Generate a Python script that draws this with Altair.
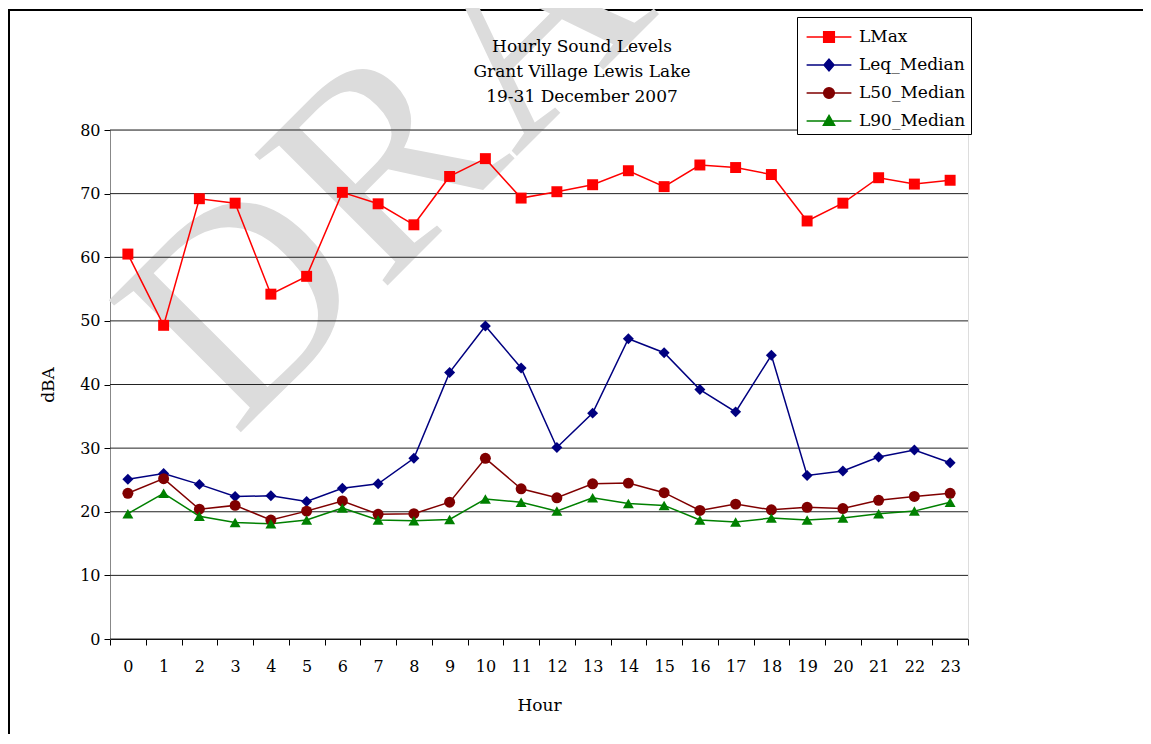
import altair as alt
import pandas as pd

FONT = "DejaVu Serif"

hours = list(range(24))
series_names = ["LMax", "Leq_Median", "L50_Median", "L90_Median"]
lmax = [60.5, 49.3, 69.2, 68.5, 54.2, 57.0, 70.2, 68.4, 65.1, 72.7, 75.5, 69.3,
        70.3, 71.4, 73.6, 71.1, 74.5, 74.1, 73.0, 65.7, 68.5, 72.5, 71.5, 72.1]
leq = [25.1, 26.0, 24.3, 22.4, 22.5, 21.6, 23.7, 24.4, 28.4, 41.9, 49.2, 42.6,
       30.1, 35.5, 47.2, 45.0, 39.2, 35.7, 44.6, 25.7, 26.4, 28.6, 29.7, 27.7]
l50 = [22.9, 25.2, 20.4, 21.0, 18.7, 20.1, 21.7, 19.6, 19.7, 21.5, 28.4, 23.6,
       22.2, 24.4, 24.5, 23.0, 20.2, 21.2, 20.3, 20.7, 20.5, 21.8, 22.4, 22.9]
l90 = [19.7, 22.9, 19.3, 18.3, 18.1, 18.7, 20.6, 18.7, 18.6, 18.8, 22.0, 21.5,
       20.1, 22.2, 21.3, 21.0, 18.7, 18.4, 19.0, 18.7, 19.0, 19.7, 20.1, 21.5]
colors = ["#FF0000", "#000080", "#800000", "#008000"]
marker_keys = ["m_square", "m_diamond", "m_circle", "m_triangle"]
shapes = ["square", "diamond", "circle", "triangle-up"]
legend_paths = [
    "M-1.6,0H1.6M-0.38,-0.38H0.38V0.38H-0.38Z",
    "M-1.6,0H1.6M0,-0.42L0.36,0L0,0.42L-0.36,0Z",
    "M-1.6,0H1.6M-0.38,0A0.38,0.38,0,1,0,0.38,0A0.38,0.38,0,1,0,-0.38,0Z",
    "M-1.6,0H1.6M0,-0.4L0.4,0.3H-0.4Z",
]
grid_values = [0, 10, 20, 30, 40, 50, 60, 70, 80]
title_lines = ["Hourly Sound Levels", "Grant Village Lewis Lake", "19-31 December 2007"]
x_title = "Hour"
y_title = "dBA"
watermark = "DRAFT"

rows = []
for name, mk, vals in zip(series_names, marker_keys, [lmax, leq, l50, l90]):
    for h, v in zip(hours, vals):
        rows.append({"Hour": h, "value": v, "series": name, "marker": mk})
df = pd.DataFrame(rows)
one = pd.DataFrame({"a": [0]})
grid_df = pd.DataFrame({"value": grid_values})

def sel_expr(values):
    expr = "'" + values[-1] + "'"
    for n, v in reversed(list(zip(series_names[:-1], values[:-1]))):
        expr = f"datum.value === '{n}' ? '{v}' : (" + expr + ")"
    return expr

shape_expr = sel_expr(legend_paths)
color_expr = sel_expr(colors)

W, H = 858, 509

x_enc = alt.X(
    "Hour:O",
    sort=hours,
    scale=alt.Scale(type="band", paddingInner=0, paddingOuter=0),
    axis=alt.Axis(
        title=x_title, labelAngle=0, tickBand="extent", grid=False,
        domainColor="#000", tickColor="#000", tickSize=6, domainWidth=1.2,
        labelFont=FONT, labelFontSize=16, labelColor="#000", labelPadding=13,
        titleFont=FONT, titleFontSize=17, titleFontWeight="normal", titleColor="#000",
        titlePadding=23,
    ),
)
y_scale = alt.Scale(domain=[0, 80], nice=False, zero=True)
y_axis = alt.Axis(
    title=y_title, values=grid_values, grid=False,
    domainColor="#888", tickColor="#000", tickSize=6,
    labelFont=FONT, labelFontSize=16, labelColor="#000", labelPadding=4,
    titleFont=FONT, titleFontSize=17, titleFontWeight="normal", titleColor="#000",
    titlePadding=22,
)
y_enc = alt.Y("value:Q", scale=y_scale, axis=y_axis)
color_scale = alt.Scale(domain=series_names, range=colors)

frame = alt.Chart(one).mark_rect(filled=False, stroke="#000", strokeWidth=2).encode(
    x=alt.value(-101), x2=alt.value(1300), y=alt.value(-120), y2=alt.value(900)
)

wm = alt.Chart(one).mark_text(
    text=watermark, font="Liberation Serif", fontSize=285, angle=315,
    color="#dcdcdc", align="left", baseline="alphabetic",
).encode(x=alt.value(125), y=alt.value(308))

grid = alt.Chart(grid_df).mark_rule(color="#222", strokeWidth=1).encode(
    y=alt.Y("value:Q", scale=y_scale, axis=y_axis)
)

legend = alt.Legend(
    title=None, orient="none", legendX=687, legendY=-113, direction="vertical",
    labelFont=FONT, labelFontSize=17, labelColor="#000",
    symbolSize=784, symbolStrokeWidth=1.5, symbolOffset=12, labelOffset=15,
    padding=5, strokeColor="#000", fillColor="#fff", rowPadding=4,
    symbolType=alt.ExprRef(expr=shape_expr),
    symbolFillColor=alt.ExprRef(expr=color_expr),
    symbolStrokeColor=alt.ExprRef(expr=color_expr),
    symbolOpacity=1,
)

lines = alt.Chart(df).mark_line(strokeWidth=1.5).encode(
    x=x_enc, y=y_enc,
    color=alt.Color("series:N", scale=color_scale, sort=series_names, legend=legend),
    detail="series:N",
)

points = alt.Chart(df).mark_point(filled=True, opacity=1, size=120).encode(
    x=x_enc, y=y_enc,
    color=alt.Color("series:N", scale=color_scale, sort=series_names, legend=legend),
    shape=alt.Shape("marker:N", scale=alt.Scale(domain=marker_keys, range=shapes), legend=None),
)

title = alt.Chart(one).mark_text(
    text=title_lines, font=FONT, fontSize=17, lineHeight=25,
    align="center", baseline="top", color="#000",
).encode(x=alt.value(472), y=alt.value(-91))

chart = alt.layer(frame, wm, grid, lines, points, title).properties(
    width=W, height=H,
    autosize=alt.AutoSizeParams(type="none"),
    padding={"left": 102, "top": 122, "right": 175, "bottom": 95},
).configure_view(stroke=None).configure(background="#ffffff")

chart.save("out.html", embed_options={"renderer": "svg", "actions": False})
